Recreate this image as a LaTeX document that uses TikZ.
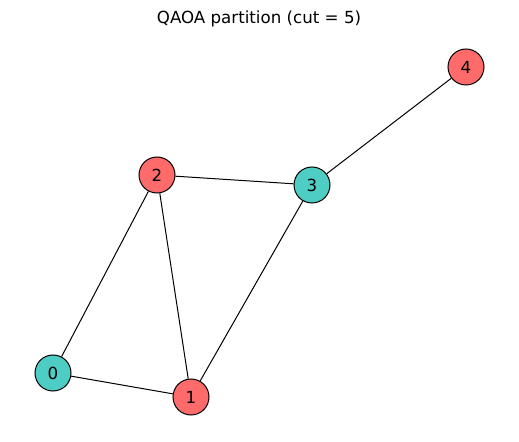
\documentclass[tikz,border=0pt]{standalone}
\usepackage{fontspec}
\setmainfont{DejaVu Sans}
\usetikzlibrary{positioning}
\definecolor{partred}{HTML}{FF6B6B}
\definecolor{partteal}{HTML}{4ECDC4}
\tikzset{
    qubit/.style={circle, draw, line width=0.75pt, minimum size=27pt, inner sep=0pt, font=\fontsize{12.5}{15}\selectfont},
    redq/.style={qubit, fill=partred},
    tealq/.style={qubit, fill=partteal},
    link/.style={line width=0.75pt}
}

\begin{document}
\begin{tikzpicture}[x=0.75pt, y=-0.75pt]
    \useasboundingbox (0,0) rectangle (519,442);
    \node[font=\fontsize{12.5}{15}\selectfont] (title) at (259,19) {QAOA partition (cut = 5)};

    \node[tealq] (0) at (53,373) {0};
    \node[redq] (1) at (191,397) {1};
    \node[redq] (2) at (157,175) {2};
    \node[tealq] (3) at (312,185) {3};
    \node[redq] (4) at (466,67) {4};

    \draw[link] (0) -- (1);
    \draw[link] (0) -- (2);
    \draw[link] (1) -- (2);
    \draw[link] (1) -- (3);
    \draw[link] (2) -- (3);
    \draw[link] (3) -- (4);

\end{tikzpicture}
\end{document}
